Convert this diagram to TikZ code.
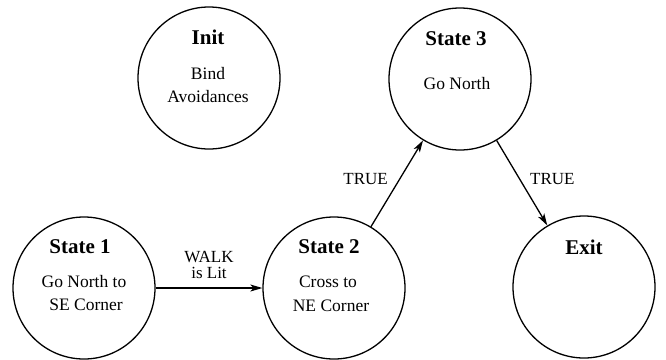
\documentclass[tikz,border=0pt]{standalone}
\usepackage{fontspec}
\setmainfont{Liberation Serif}
\usetikzlibrary{arrows.meta}
\begin{document}
\begin{tikzpicture}[x=1pt,y=-1pt,
  stnode/.style={circle,draw,line width=1.3pt,minimum size=142pt,inner sep=0pt},
  bodytxt/.style={inner sep=0pt,anchor=base,font=\fontsize{17.5}{21}\selectfont},
  ttl/.style={inner sep=0pt,anchor=base,font=\fontsize{21}{25}\selectfont\bfseries},
  edgearrow/.style={line width=1.3pt,-{Stealth[length=12pt,width=7pt,inset=3pt]}},
  lbl/.style={inner sep=0pt,font=\fontsize{17}{20}\selectfont}]
\useasboundingbox (0,0) rectangle (666,359);

% states
\node[stnode] (init) at (209,78) {};
\node[stnode] (s3) at (460,79) {};
\node[stnode] (s1) at (84,288) {};
\node[stnode] (s2) at (334,288) {};
\node[stnode] (exit) at (584,287) {};

% state texts
\node[ttl] (initT) at (208,44) {Init};
\node[bodytxt] (initA) at (208,79) {Bind};
\node[bodytxt] (initB) at (208,102) {Avoidances};

\node[ttl] (s3T) at (456,45) {State 3};
\node[bodytxt] (s3A) at (457,89) {Go North};

\node[ttl] (s1T) at (80,253) {State 1};
\node[bodytxt] (s1A) at (84,287) {Go North to};
\node[bodytxt] (s1B) at (86,310) {SE Corner};

\node[ttl] (s2T) at (329,253) {State 2};
\node[bodytxt] (s2A) at (328,287) {Cross to};
\node[bodytxt] (s2B) at (331,311) {NE Corner};

\node[ttl] (exitT) at (584,254) {Exit};

% transitions
\draw[edgearrow] (s1) -- (s2);
\draw[edgearrow] (s2) -- (s3);
\draw[edgearrow] (s3) -- (exit);

% transition labels
\node[lbl,anchor=base] (walk) at (209,262) {WALK};
\node[lbl,anchor=base] (lit) at (209,278) {is Lit};
\node[lbl,anchor=base east] (t1) at (388,184) {TRUE};
\node[lbl,anchor=base west] (t2) at (530,184) {TRUE};
\end{tikzpicture}
\end{document}
